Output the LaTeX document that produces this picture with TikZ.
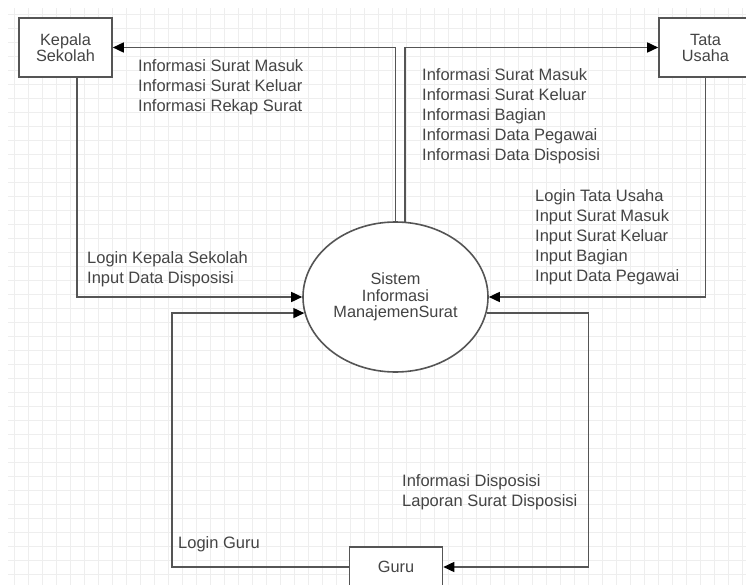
\documentclass[tikz,border=0pt]{standalone}
\usepackage{fontspec}
\setmainfont{Liberation Sans}
\usetikzlibrary{shapes.geometric,arrows.meta,calc}
\definecolor{linec}{HTML}{555555}
\definecolor{textc}{HTML}{444444}
\definecolor{gridc}{HTML}{EEEEEE}
\begin{document}
\begin{tikzpicture}[x=1pt,y=-1pt,
  entity/.style={draw=linec,line width=1.6pt,fill=white,minimum width=93pt,minimum height=59pt,inner sep=0pt,align=center,text=textc,font=\fontsize{16.3}{16}\selectfont},
  proc/.style={ellipse,draw=linec,line width=1.6pt,fill=white,minimum width=185pt,minimum height=150pt,inner sep=0pt,align=center,text=textc,font=\fontsize{16.3}{16.5}\selectfont},
  lbl/.style={anchor=north west,inner sep=0pt,align=left,text=textc,font=\fontsize{16.5}{20}\selectfont},
  flow/.style={draw=linec,line width=1.6pt,-{Triangle[length=11pt,width=10pt,color=black]}}]
\useasboundingbox (0,0) rectangle (746,585);
\fill[white] (0,0) rectangle (746,585);
\draw[gridc,line width=0.6pt,step=14pt] (8,8) grid (746,585);
% nodes
\node[entity] (k) at (65.5,47.5) {Kepala\\Sekolah};
\node[entity] (t) at (705.5,47.5) {Tata\\Usaha};
\node[entity,minimum height=40pt] (g) at (396,567) {Guru};
\node[proc] (s) at (395.5,297) {Sistem\\Informasi\\ManajemenSurat};
% connectors
\draw[flow] (s.90) |- (k.east);
\draw[flow] (s.83) |- (t.west);
\draw[flow] ([xshift=11.5pt]k.south) |- (s.west);
\draw[flow] (t.south) |- (s.east);
\draw[flow] (g.west) -- ++(-177,0) |- (s.190);
\draw[flow] (s.-10) -| ([xshift=145pt]g.east) -- (g.east);
% labels
\node[lbl] (l1) at (138,59) {Informasi Surat Masuk\\Informasi Surat Keluar\\Informasi Rekap Surat};
\node[lbl] (l2) at (422,68) {Informasi Surat Masuk\\Informasi Surat Keluar\\Informasi Bagian\\Informasi Data Pegawai\\Informasi Data Disposisi};
\node[lbl] (l3) at (535,189) {Login Tata Usaha\\Input Surat Masuk\\Input Surat Keluar\\Input Bagian\\Input Data Pegawai};
\node[lbl] (l4) at (87,251) {Login Kepala Sekolah\\Input Data Disposisi};
\node[lbl] (l5) at (402,474) {Informasi Disposisi\\Laporan Surat Disposisi};
\node[lbl] (l6) at (178,536) {Login Guru};
\end{tikzpicture}
\end{document}
